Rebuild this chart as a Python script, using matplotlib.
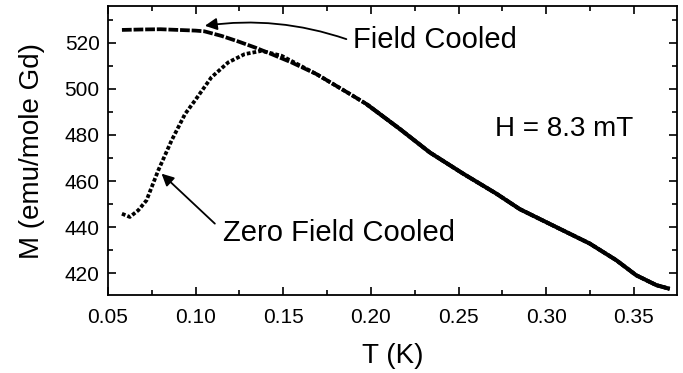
import matplotlib
matplotlib.use("Agg")
import matplotlib.pyplot as plt
from matplotlib.ticker import MultipleLocator

plt.rcParams['font.family'] = ['Liberation Sans', 'DejaVu Sans']

# zero field cooled magnetization, T (K) vs M (emu/mole Gd)
T_zfc = [0.058, 0.0625, 0.0673, 0.072, 0.0787, 0.0863, 0.094, 0.0996, 0.109,
         0.1186, 0.128, 0.1376, 0.149, 0.169, 0.188, 0.1975, 0.2165, 0.2336,
         0.2526, 0.2716, 0.2849, 0.3057, 0.3247, 0.34, 0.3513, 0.3628, 0.3704]
M_zfc = [445.8, 444.4, 447.3, 451.6, 464.6, 477.6, 489.1, 494.9, 505.0,
         511.5, 515.1, 516.5, 514.4, 506.4, 497.8, 493.4, 482.6, 472.4,
         463.2, 454.5, 447.8, 440.0, 432.9, 425.6, 419.1, 414.8, 413.2]

# field cooled magnetization
T_fc = [0.058, 0.07, 0.08, 0.09, 0.1, 0.105, 0.1148, 0.1243, 0.1338, 0.1433,
        0.1547, 0.169, 0.188, 0.1975, 0.2165, 0.2336, 0.2526, 0.2716, 0.2849,
        0.3057, 0.3247, 0.34, 0.3513, 0.3628, 0.3704]
M_fc = [525.6, 525.8, 525.9, 525.6, 525.3, 525.0, 523.0, 520.6, 518.0, 515.1,
        511.5, 506.4, 497.8, 493.4, 482.6, 472.4, 463.2, 454.5, 447.8,
        440.0, 432.9, 425.6, 419.1, 414.8, 413.2]

# above ~0.195 K the points sit so close together the trace looks solid
T_dense = 0.195

fig = plt.figure(figsize=(6.83, 3.73), dpi=100)
ax = fig.add_axes([0.158, 0.209, 0.833, 0.775])

ax.plot(T_zfc, M_zfc, color='black', lw=2.7, ls=(0, (1, 0.55)))
ax.plot(T_fc, M_fc, color='black', lw=2.7, ls=(0, (2.6, 0.5)))
hi = [i for i, t in enumerate(T_fc) if t >= T_dense]
ax.plot([T_fc[i] for i in hi], [M_fc[i] for i in hi], color='black', lw=2.9,
        solid_capstyle='butt')

ax.set_xlim(0.05, 0.3745)
ax.set_ylim(410.5, 536)
ax.xaxis.set_major_locator(MultipleLocator(0.05))
ax.xaxis.set_minor_locator(MultipleLocator(0.025))
ax.yaxis.set_major_locator(MultipleLocator(20))
ax.yaxis.set_minor_locator(MultipleLocator(10))
ax.tick_params(which='both', direction='in', top=True, right=True, width=1.2)
ax.tick_params(which='major', length=6, labelsize=15)
ax.tick_params(which='minor', length=3.5)
ax.tick_params(axis='x', pad=9)
ax.tick_params(axis='y', pad=6)
for s in ax.spines.values():
    s.set_linewidth(1.3)

ax.set_xlabel('T (K)', fontsize=20, labelpad=12)
ax.set_ylabel('M (emu/mole Gd)', fontsize=20, labelpad=14)

arrow = dict(arrowstyle='-|>', color='black', lw=1.3, mutation_scale=18,
             shrinkA=0, shrinkB=0)
ax.annotate('', xy=(0.1053, 527.4), xytext=(0.186, 521.6),
            arrowprops=dict(arrow, connectionstyle='arc3,rad=0.12'))
ax.text(0.190, 521.3, 'Field Cooled', fontsize=21, ha='left', va='center')

ax.annotate('', xy=(0.0806, 463.2), xytext=(0.111, 441.5), arrowprops=arrow)
ax.text(0.1156, 437.5, 'Zero Field Cooled', fontsize=21, ha='left', va='center')

ax.text(0.2706, 482.8, 'H = 8.3 mT', fontsize=20, ha='left', va='center')

fig.savefig('out.png', dpi=100)
